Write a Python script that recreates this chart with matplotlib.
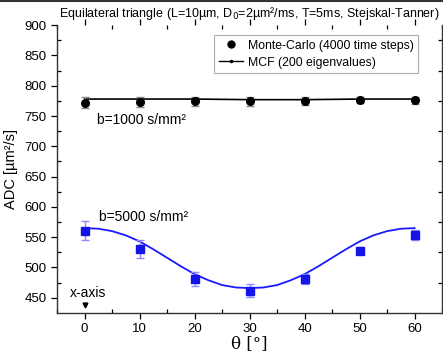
import matplotlib.pyplot as plt
from matplotlib.lines import Line2D

plt.rcParams['font.family'] = ['Liberation Sans', 'DejaVu Sans']

# Angulos (graus)
theta = [0, 10, 20, 30, 40, 50, 60]

# b = 1000 s/mm2
mc_1000 = [772, 773, 774, 774, 775, 776, 776]
mc_1000_err = [9, 8, 8, 7, 6, 5, 6]
mcf_1000 = [778, 778, 778, 777, 777, 778, 778]

# b = 5000 s/mm2
mc_5000 = [561, 531, 481, 462, 481, 528, 554]
mc_5000_err = [16, 15, 11, 10, 9, 6, 8]
theta_mcf_5000 = [0, 2.5, 5, 7.5, 10, 12.5, 15, 17.5, 20, 22.5, 25, 27.5, 30,
                  32.5, 35, 37.5, 40, 42.5, 45, 47.5, 50, 52.5, 55, 57.5, 60]
mcf_5000 = [565, 564, 560, 553, 543, 530, 516, 502, 489, 479, 471, 467, 466,
            467, 471, 479, 489, 502, 516, 530, 543, 553, 560, 564, 565]

fig = plt.figure(figsize=(4.43, 3.54), dpi=100)
ax = fig.add_axes([0.129, 0.116, 0.869, 0.813])

# MCF (linhas)
ax.plot(theta, mcf_1000, color='black', lw=1.2, zorder=3)
ax.plot(theta_mcf_5000, mcf_5000, color='#1a1aff', lw=1.3, zorder=3)

# Monte-Carlo (pontos)
ax.errorbar(theta, mc_1000, yerr=mc_1000_err, fmt='o', color='black', ms=5.5,
            ecolor='#888888', elinewidth=1, capsize=3, zorder=4)
ax.errorbar(theta, mc_5000, yerr=mc_5000_err, fmt='s', color='#1414e6', ms=5.5,
            ecolor='#8c8cff', elinewidth=1, capsize=3, zorder=4)

ax.text(2.2, 743, 'b=1000 s/mm²', fontsize=10, va='center')
ax.text(2.7, 584, 'b=5000 s/mm²', fontsize=10, va='center')
ax.text(-2.7, 458, 'x-axis', fontsize=10, va='center')
ax.plot([0], [438], marker='v', color='black', ms=3.5)

ax.set_xlim(-5, 65)
ax.set_ylim(425, 900)
ax.set_xticks([0, 10, 20, 30, 40, 50, 60])
ax.set_xticks([-5, 5, 15, 25, 35, 45, 55, 65], minor=True)
ax.set_yticks([450, 500, 550, 600, 650, 700, 750, 800, 850, 900])
ax.set_yticks([475, 525, 575, 625, 675, 725, 775, 825, 875], minor=True)
ax.tick_params(axis='both', which='major', direction='out', length=4,
               labelsize=9.5, width=0.9)
ax.tick_params(axis='both', which='minor', direction='in', length=3, width=0.9)
ax.tick_params(top=True, right=True, which='both', labeltop=False, labelright=False)
ax.spines['top'].set_visible(False)
for s in ['left', 'bottom', 'right']:
    ax.spines[s].set_linewidth(1.0)
    ax.spines[s].set_color('#333333')

ax.set_ylabel('ADC [µm²/s]', fontsize=10.5, labelpad=5)
ax.set_xlabel('θ [°]', fontsize=12, family=['DejaVu Serif'], labelpad=0)
ax.set_title(r'Equilateral triangle (L=10µm, D$_{\rm 0}$=2µm²/ms, T=5ms, Stejskal-Tanner)',
             fontsize=9, pad=6)

handles = [Line2D([], [], marker='o', color='black', ls='none', ms=5),
           Line2D([], [], marker='.', color='black', lw=1, ms=3)]
leg = ax.legend(handles, ['Monte-Carlo (4000 time steps)', 'MCF (200 eigenvalues)'],
                loc='upper right', bbox_to_anchor=(0.945, 0.975), fontsize=8.8,
                frameon=True, fancybox=False, handlelength=2.0,
                borderpad=0.4, labelspacing=0.4, handletextpad=0.35,
                borderaxespad=0.2)
leg.get_frame().set_edgecolor('#999999')
leg.get_frame().set_linewidth(0.8)

fig.add_artist(Line2D([0, 1], [0.997, 0.997], color='#333333', lw=1.5,
                      transform=fig.transFigure))

fig.savefig('out.png', dpi=100)
